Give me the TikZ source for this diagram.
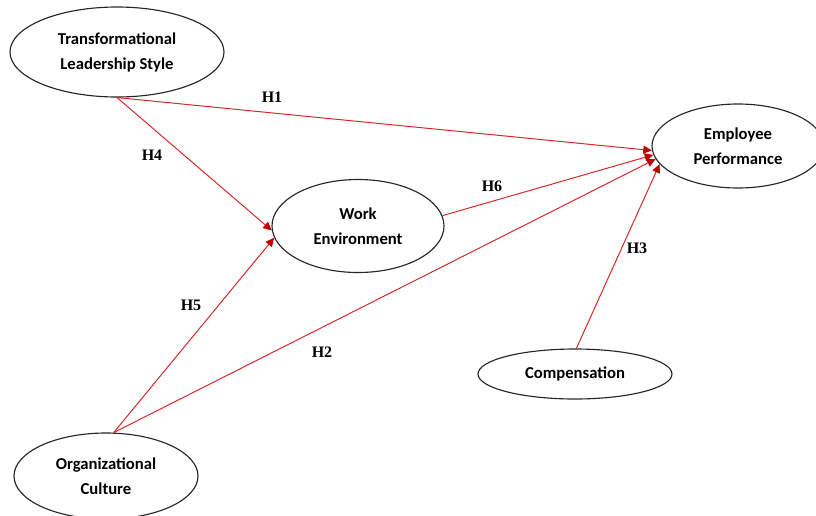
\documentclass[tikz,border=0pt]{standalone}
\usepackage{fontspec}
\setmainfont{Carlito}
\newfontfamily\tnr{Liberation Serif}
\usetikzlibrary{shapes.geometric,arrows.meta}
\definecolor{linered}{HTML}{D42A2A}
\definecolor{headred}{HTML}{C00000}
\tikzset{
  construct/.style={ellipse, draw=black!85, line width=0.85pt, inner sep=0pt, align=center,
    font=\bfseries\fontsize{12.5}{18.75}\selectfont},
  path/.style={draw=linered, line width=0.75pt, -{Triangle[length=6.5pt,width=6pt,fill=headred,color=headred]}},
  hyp/.style={font=\tnr\bfseries\fontsize{12}{13}\selectfont}
}
\begin{document}
\begin{tikzpicture}[x=0.75pt,y=-0.75pt]
\useasboundingbox (0,0) rectangle (816,515);
\clip (0,0) rectangle (816,515);
\node[construct, minimum width=214*0.75pt, minimum height=90*0.75pt] (tls) at (117,52) {Transformational\\Leadership Style};
\node[construct, minimum width=172*0.75pt, minimum height=84*0.75pt] (ep) at (738,146) {Employee\\Performance};
\node[construct, minimum width=172*0.75pt, minimum height=93*0.75pt] (we) at (358,226) {Work\\Environment};
\node[construct, minimum width=184*0.75pt, minimum height=86*0.75pt] (oc) at (106,476) {Organizational\\Culture};
\node[construct, minimum width=194*0.75pt, minimum height=50*0.75pt] (comp) at (575,374) {Compensation};

\draw[path] (tls.south) -- (ep.183);
\draw[path] (tls.south) -- (we.183);
\draw[path] (oc.80) -- (we.188);
\draw[path] (oc.80) -- (ep.189);
\draw[path] (we.7) -- (ep.186);
\draw[path] (comp.87) -- (ep.193);

\node[hyp] (h1) at (272,97) {H1};
\node[hyp] (h4) at (152,155) {H4};
\node[hyp] (h6) at (492,186) {H6};
\node[hyp] (h3) at (637,248) {H3};
\node[hyp] (h5) at (191,305) {H5};
\node[hyp] (h2) at (322,352) {H2};
\end{tikzpicture}
\end{document}
